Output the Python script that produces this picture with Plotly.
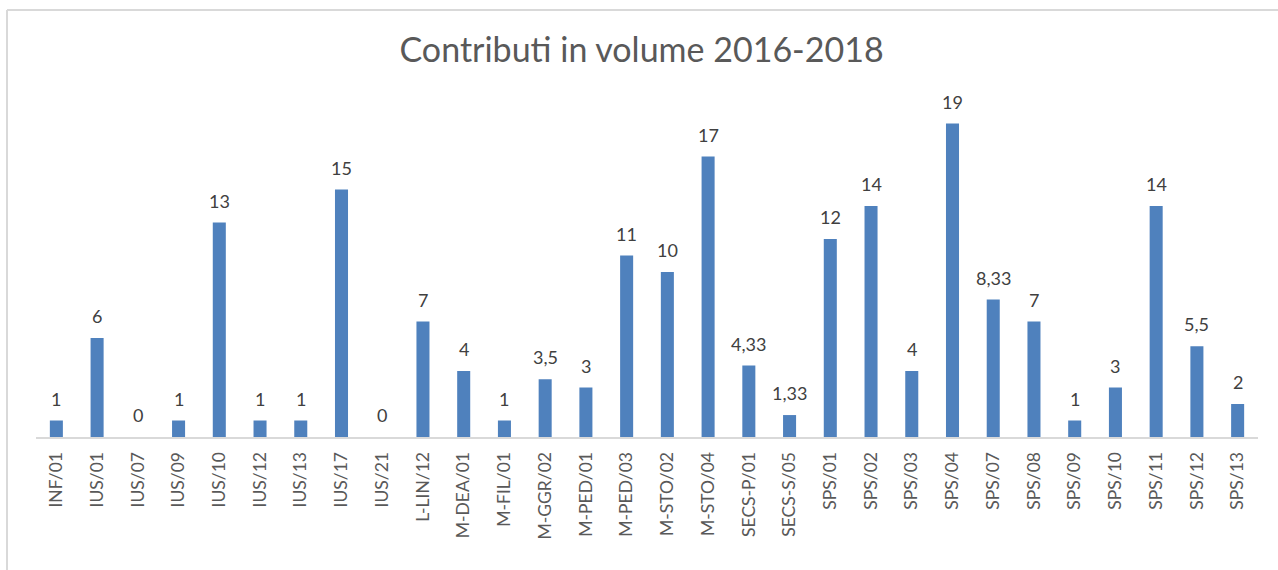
import plotly.graph_objects as go

categorie = ['INF/01', 'IUS/01', 'IUS/07', 'IUS/09', 'IUS/10', 'IUS/12', 'IUS/13', 'IUS/17',
             'IUS/21', 'L-LIN/12', 'M-DEA/01', 'M-FIL/01', 'M-GGR/02', 'M-PED/01', 'M-PED/03',
             'M-STO/02', 'M-STO/04', 'SECS-P/01', 'SECS-S/05', 'SPS/01', 'SPS/02', 'SPS/03',
             'SPS/04', 'SPS/07', 'SPS/08', 'SPS/09', 'SPS/10', 'SPS/11', 'SPS/12', 'SPS/13']
contributi = [1, 6, 0, 1, 13, 1, 1, 15, 0, 7, 4, 1, 3.5, 3, 11, 10, 17, 4.33, 1.33,
              12, 14, 4, 19, 8.33, 7, 1, 3, 14, 5.5, 2]

# etichette con la virgola decimale
etichette = [('%g' % v).replace('.', ',') for v in contributi]

W, H = 1278, 570
ml, mr, mt, mb = 36, 20, 107, 133
pw, ph = W - ml - mr, H - mt - mb

fig = go.Figure()
fig.add_trace(go.Bar(
    x=categorie, y=contributi,
    marker=dict(color='#4f81bd', line=dict(width=0)),
    hoverinfo='x+y'
))

# etichette dati sopra le barre
for cat, val, lab in zip(categorie, contributi, etichette):
    fig.add_annotation(x=cat, y=val, text=lab, showarrow=False, yanchor='bottom',
                       yshift=9, font=dict(family='Lato', size=18, color='#404040'))

fig.update_layout(
    width=W, height=H,
    margin=dict(l=ml, r=mr, t=mt, b=mb, autoexpand=False),
    paper_bgcolor='white', plot_bgcolor='white',
    title=dict(text='Contributi in volume 2016-2018', x=0.502, xanchor='center',
               y=1 - 50 / H, yanchor='middle',
               font=dict(family='Lato', size=34, color='#595959')),
    bargap=0.68, showlegend=False,
    font=dict(family='Lato', color='#595959')
)
fig.update_xaxes(tickangle=-90, tickfont=dict(size=17.5, color='#595959'),
                 showline=True, linecolor='#d9d9d9', linewidth=2, ticks='',
                 ticklabelstandoff=6, showgrid=False, automargin=False)
fig.update_yaxes(range=[0, 20], visible=False, automargin=False)

# bordo grigio del riquadro (solo alto e sinistra visibili)
bx0 = (7 - ml) / pw
by1 = (H - mb - 10) / ph
fig.add_shape(type='line', xref='paper', yref='paper', x0=bx0, x1=(W + 5 - ml) / pw,
              y0=by1, y1=by1, line=dict(color='#d9d9d9', width=2))
fig.add_shape(type='line', xref='paper', yref='paper', x0=bx0, x1=bx0,
              y0=by1, y1=(H - mb - H - 5) / ph, line=dict(color='#d9d9d9', width=2))

fig.write_html('out.html', config={'displayModeBar': False},
               post_script="document.body.style.margin='0';")
